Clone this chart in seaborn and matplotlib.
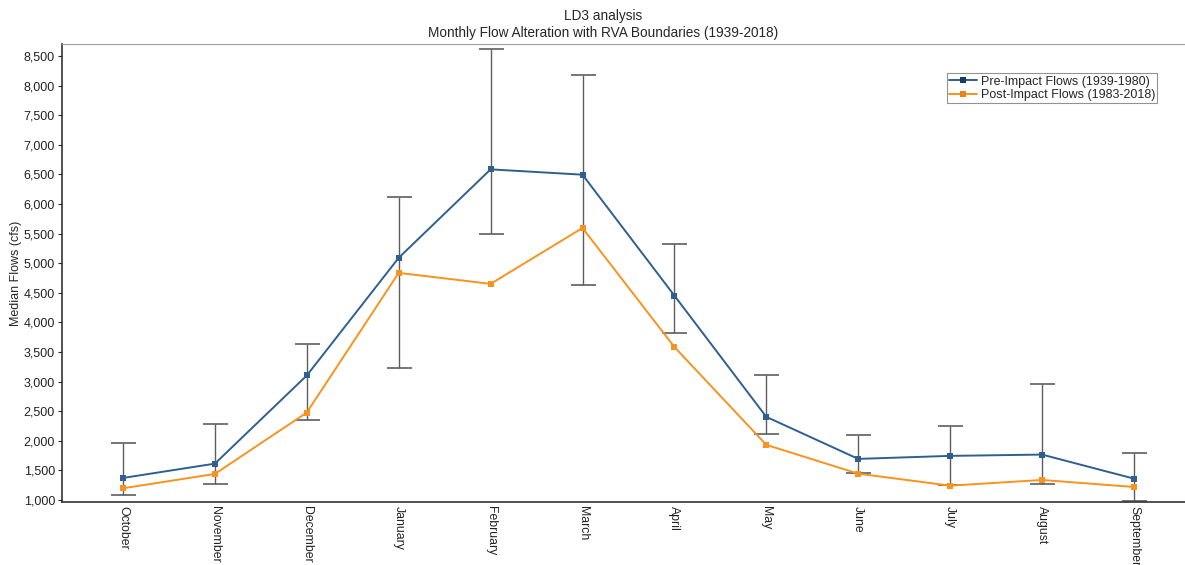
import numpy as np
import pandas as pd
import seaborn as sns
import matplotlib.pyplot as plt
from matplotlib.ticker import FuncFormatter

# Data
months = ["October", "November", "December", "January", "February", "March",
          "April", "May", "June", "July", "August", "September"]
pre_impact = [1372, 1614, 3103, 5090, 6584, 6494, 4452, 2404, 1694, 1745, 1767, 1361]
post_impact = [1198, 1440, 2477, 4836, 4650, 5594, 3584, 1931, 1445, 1242, 1338, 1220]
rva_low = [1080, 1276, 2359, 3233, 5496, 4638, 3814, 2112, 1450, 1254, 1276, 983]
rva_high = [1959, 2291, 3640, 6122, 8614, 8186, 5326, 3103, 2105, 2257, 2951, 1795]

pre_label = "Pre-Impact Flows (1939-1980)"
post_label = "Post-Impact Flows (1983-2018)"

sns.set_style("white")
plt.rcParams['font.family'] = ['Liberation Sans', 'DejaVu Sans']

x = np.arange(len(months))
df = pd.DataFrame({
    "x": np.concatenate([x, x]),
    "flow": pre_impact + post_impact,
    "series": [pre_label] * len(months) + [post_label] * len(months),
})

fig = plt.figure(figsize=(11.85, 5.65), dpi=100)
ax = fig.add_axes([0.0523, 0.1115, 0.9477, 0.8105])

# RVA boundaries as error bars
low = np.array(rva_low)
high = np.array(rva_high)
ax.errorbar(x, low, yerr=[np.zeros(len(x)), high - low], fmt="none",
            ecolor="#5e5e5e", elinewidth=1, capsize=9, capthick=1.2, zorder=1)

sns.lineplot(data=df, x="x", y="flow", hue="series", style="series",
             markers=["s", "s"], dashes=False, markersize=3.8, linewidth=1.4,
             palette=["#2f5f8f", "#f7931e"], markeredgewidth=0, ax=ax, zorder=3)

# marker colors slightly darker than lines
for line, mc in zip(ax.lines[-2:], ["#1a3a66", "#e8821a"]):
    line.set_markerfacecolor(mc)

ax.set_xlim(-0.664, 11.556)
ax.set_ylim(966, 8700)
ax.set_yticks(np.arange(1000, 8501, 500))
ax.yaxis.set_major_formatter(FuncFormatter(lambda v, p: f"{int(v):,}"))
ax.set_xticks(x)
ax.set_xticklabels(months, rotation=270, fontsize=8.8, color="#222222")
ax.set_xticks(np.arange(-0.5, 11.6, 1), minor=True)
ax.tick_params(axis="x", which="major", length=0, pad=3)
ax.tick_params(axis="x", which="minor", length=4, direction="out", color="#555555")
ax.tick_params(axis="y", length=3, direction="out", labelsize=9, labelcolor="#222222", pad=2)
ax.tick_params(left=True, bottom=True)

ax.set_xlabel("")
ax.set_ylabel("Median Flows (cfs)", fontsize=9, labelpad=1)

for s in ["left", "bottom"]:
    ax.spines[s].set_color("#333333")
    ax.spines[s].set_linewidth(1.2)
ax.spines["top"].set_color("#a0a0a0")
ax.spines["right"].set_visible(False)

leg = ax.legend(loc="upper right", bbox_to_anchor=(0.981, 0.95), fontsize=9,
                frameon=True, fancybox=False, edgecolor="#777777",
                handlelength=2.2, borderpad=0.2, labelspacing=0.1, handletextpad=0.3)
leg.get_frame().set_linewidth(0.8)

fig.text(0.509, 0.972, "LD3 analysis", ha="center", va="center", fontsize=9.8)
fig.text(0.509, 0.942, "Monthly Flow Alteration with RVA Boundaries (1939-2018)",
         ha="center", va="center", fontsize=9.8)

fig.savefig("out.png", dpi=100)
